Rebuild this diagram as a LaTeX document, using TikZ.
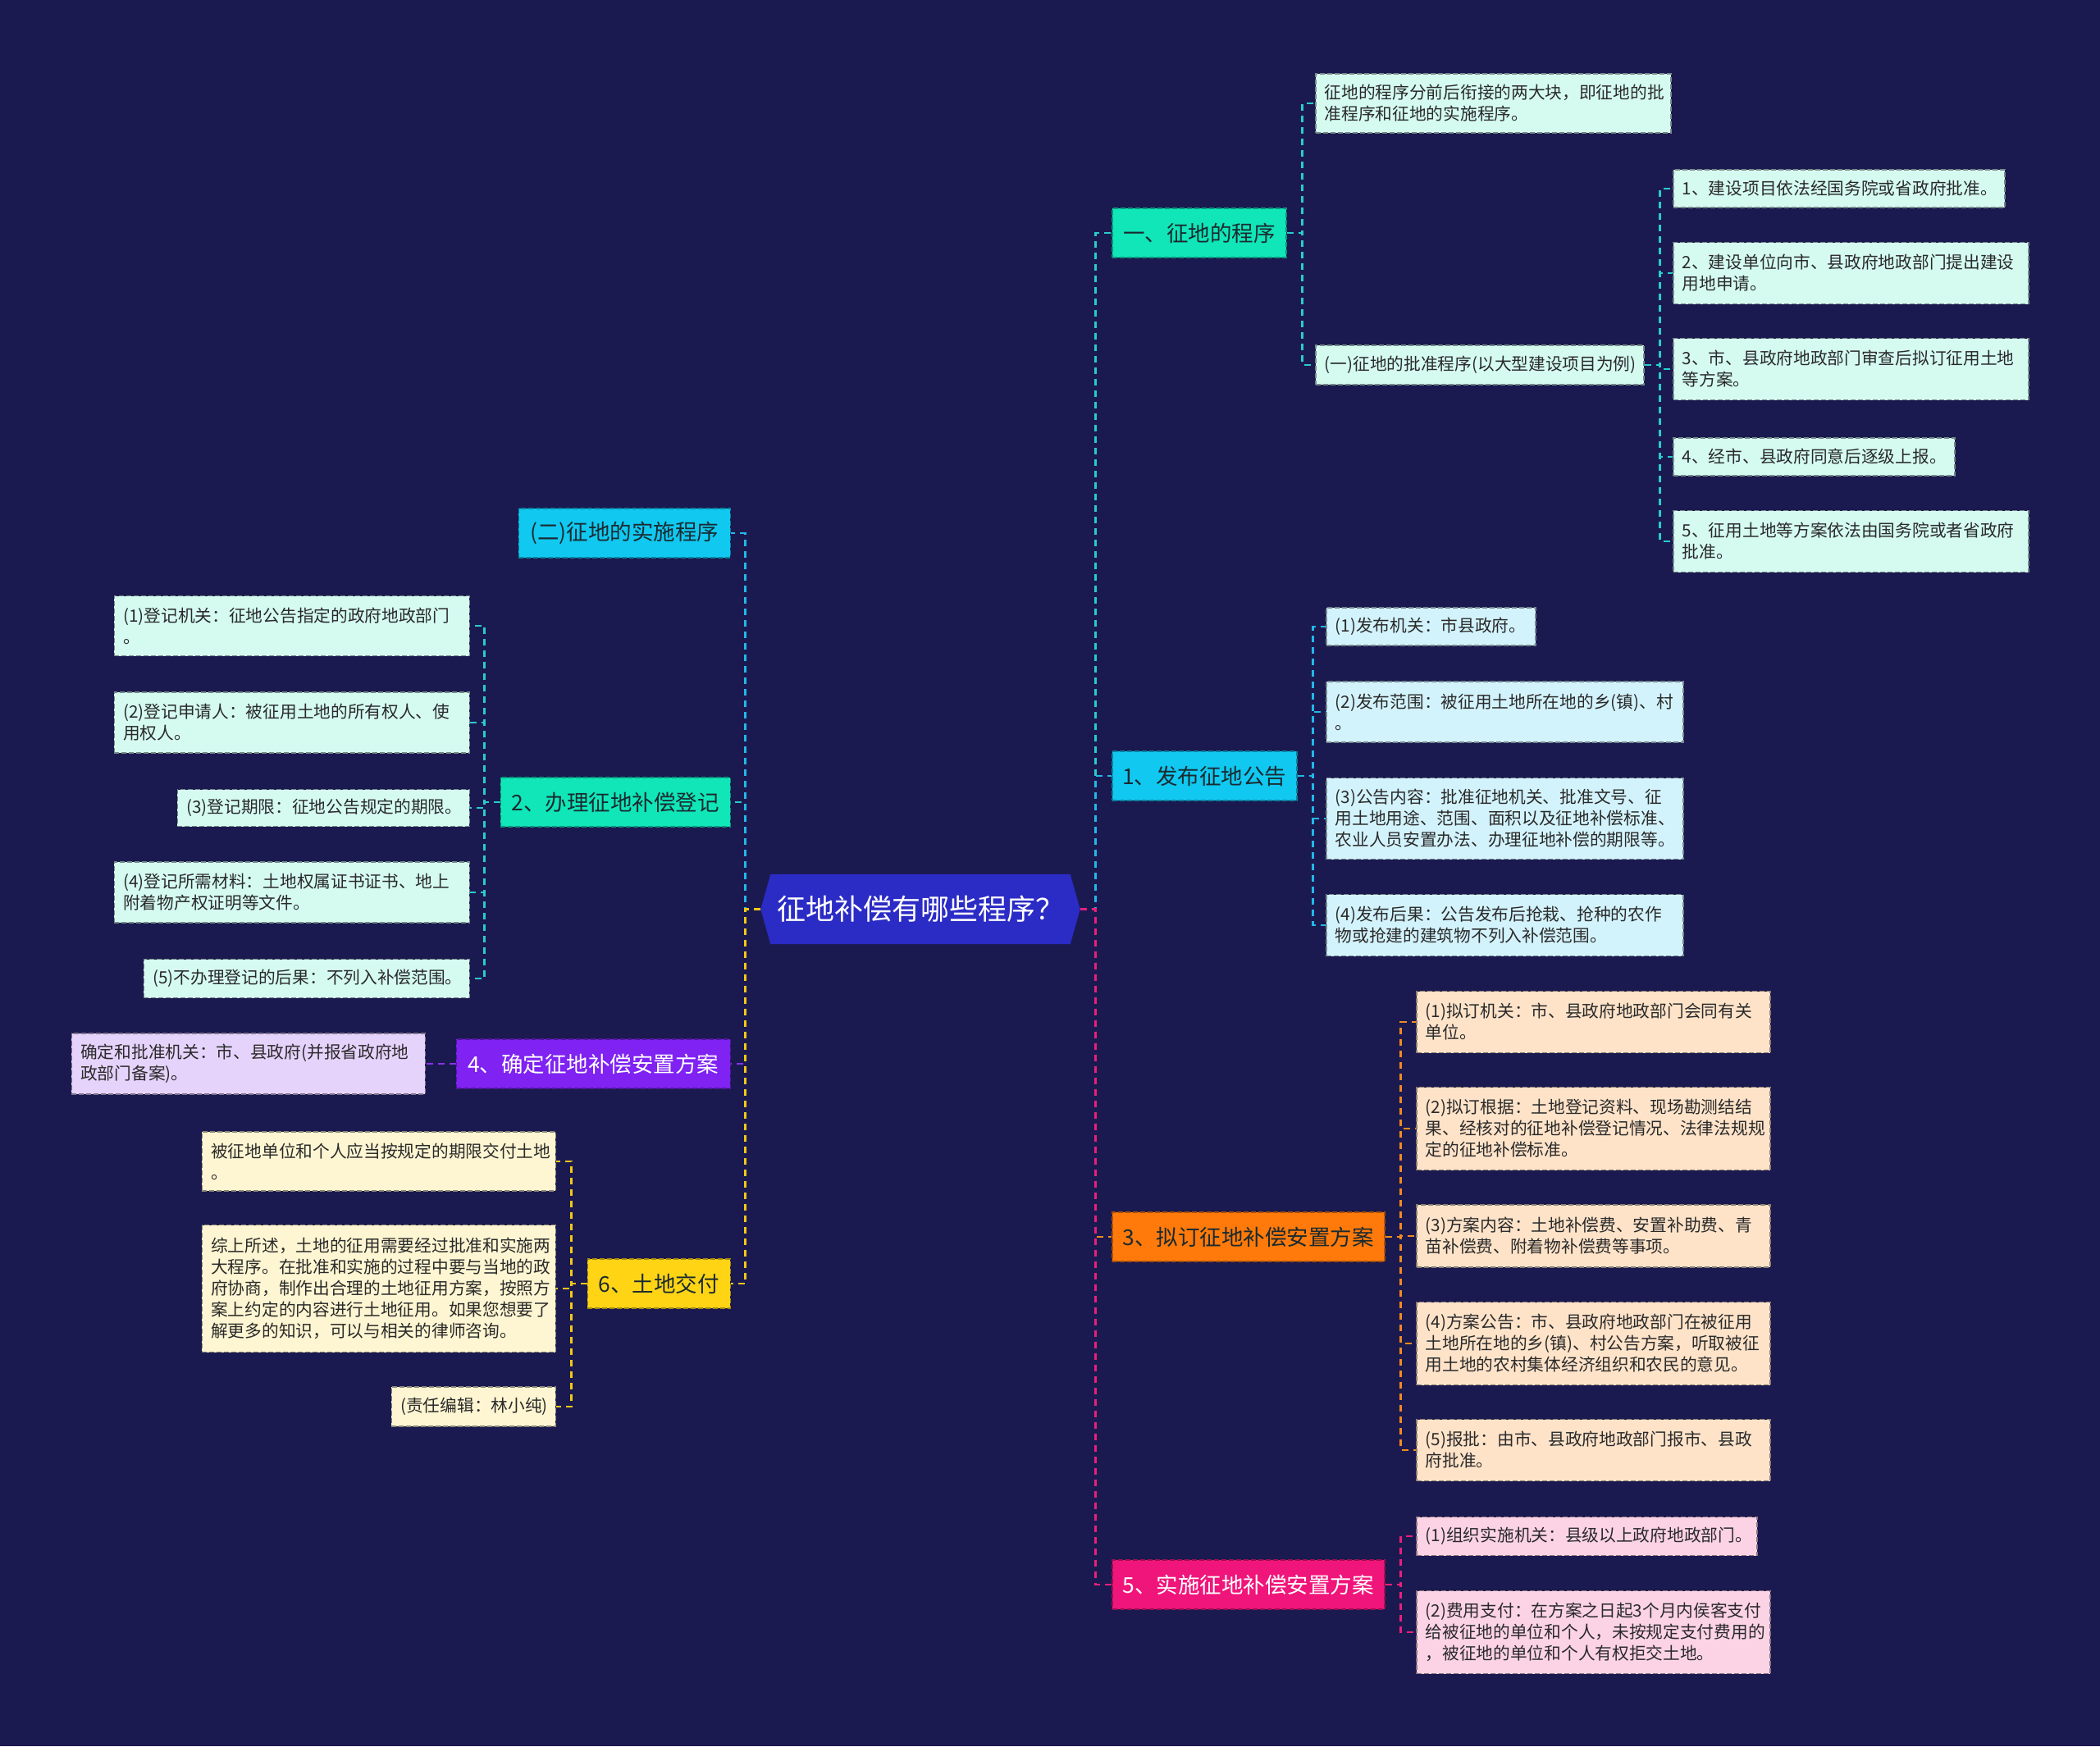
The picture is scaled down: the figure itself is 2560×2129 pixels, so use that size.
\documentclass[tikz,border=0pt]{standalone}
\usepackage{fontspec}
\setmainfont{Noto Sans CJK SC}
\definecolor{bgc}{HTML}{1B1A50}
\definecolor{rootc}{HTML}{2B2BC6}
\definecolor{aqua}{HTML}{10E6B8}
\definecolor{cyanc}{HTML}{10C8F0}
\definecolor{orangec}{HTML}{FF7A0A}
\definecolor{pinkc}{HTML}{F0157A}
\definecolor{purplec}{HTML}{7F22F2}
\definecolor{yellowc}{HTML}{FFD414}
\definecolor{mint}{HTML}{D5FBF1}
\definecolor{lcyan}{HTML}{D3F3FC}
\definecolor{peach}{HTML}{FEE3C9}
\definecolor{lpink}{HTML}{FCD3E5}
\definecolor{lav}{HTML}{E6D3FC}
\definecolor{cream}{HTML}{FEF6D2}
\definecolor{aqualine}{HTML}{28CCCC}
\definecolor{cyanline}{HTML}{22B8E8}
\definecolor{orangeline}{HTML}{F08A20}
\definecolor{pinkline}{HTML}{E8207A}
\definecolor{purpleline}{HTML}{8A30E8}
\definecolor{yellowline}{HTML}{F2C818}
\definecolor{dtext}{HTML}{1A2A30}
\definecolor{ltext}{HTML}{2A2A2A}
\pgfdeclarelayer{bgl}
\pgfdeclarelayer{lines}
\pgfsetlayers{bgl,lines,main}
\tikzset{
  conn/.style={draw=#1, line width=2.5pt, dash pattern=on 8pt off 6pt},
  rootnode/.style={inner sep=0pt, minimum width=389pt, minimum height=85pt, text=white, font=\fontsize{35}{41}\selectfont},
  lvone/.style={fill=#1, draw=#1!65!black, line width=1.5pt, dash pattern=on 6pt off 3pt, minimum height=60pt, inner sep=0pt, font=\fontsize{26.5}{32}\selectfont, text=dtext, align=center},
  leaf/.style={fill=#1, draw=#1!55!black, line width=1.5pt, dash pattern=on 6pt off 3pt, inner xsep=11pt, inner ysep=0pt, align=left, font=\fontsize{20.7}{26}\selectfont, text=ltext},
}
\begin{document}
\begin{tikzpicture}[x=1pt,y=-1pt]
\useasboundingbox (0,0) rectangle (2560,2129);
\begin{pgfonlayer}{bgl}
\fill[bgc] (0,0) rectangle (2560,2129);
\end{pgfonlayer}

% root
\node[rootnode] (root) at (1122,1108.5) {征地补偿有哪些程序？};
\begin{pgfonlayer}{lines}
\fill[rootc] (root.west) -- ([xshift=12pt]root.north west) -- ([xshift=-12pt]root.north east) -- (root.east) -- ([xshift=-12pt]root.south east) -- ([xshift=12pt]root.south west) -- cycle;
\end{pgfonlayer}

% level one, right
\node[lvone=aqua, minimum width=212pt, anchor=west] (n1) at (1355,284) {一、征地的程序};
\node[lvone=cyanc, minimum width=225pt, anchor=west] (n2) at (1355,946) {1、发布征地公告};
\node[lvone=orangec, minimum width=332pt, anchor=west] (n3) at (1355,1508) {3、拟订征地补偿安置方案};
\node[lvone=pinkc, text=white, minimum width=332pt, anchor=west] (n4) at (1355,1932) {5、实施征地补偿安置方案};

% level one, left
\node[lvone=cyanc, minimum width=258pt, anchor=east] (m1) at (891,650) {(二)征地的实施程序};
\node[lvone=aqua, minimum width=280pt, anchor=east] (m2) at (891,978) {2、办理征地补偿登记};
\node[lvone=purplec, text=white, minimum width=334pt, anchor=east] (m3) at (891,1297) {4、确定征地补偿安置方案};
\node[lvone=yellowc, minimum width=174pt, anchor=east] (m4) at (891,1565) {6、土地交付};

% leaves of n1
\node[leaf=mint, text width=411pt, minimum height=72pt, anchor=west] (a1) at (1603,126) {征地的程序分前后衔接的两大块，即征地的批\\准程序和征地的实施程序。};
\node[leaf=mint, text width=378pt, minimum height=48pt, anchor=west] (a2) at (1603,445) {(一)征地的批准程序(以大型建设项目为例)};
\node[leaf=mint, text width=382pt, minimum height=46pt, anchor=west] (b1) at (2039,230) {1、建设项目依法经国务院或省政府批准。};
\node[leaf=mint, text width=411pt, minimum height=75pt, anchor=west] (b2) at (2039,333) {2、建设单位向市、县政府地政部门提出建设\\用地申请。};
\node[leaf=mint, text width=411pt, minimum height=75pt, anchor=west] (b3) at (2039,450) {3、市、县政府地政部门审查后拟订征用土地\\等方案。};
\node[leaf=mint, text width=321pt, minimum height=46pt, anchor=west] (b4) at (2039,557) {4、经市、县政府同意后逐级上报。};
\node[leaf=mint, text width=411pt, minimum height=75pt, anchor=west] (b5) at (2039,660) {5、征用土地等方案依法由国务院或者省政府\\批准。};

% leaves of n2
\node[leaf=lcyan, text width=233pt, minimum height=46pt, anchor=west] (c1) at (1616,764) {(1)发布机关：市县政府。};
\node[leaf=lcyan, text width=413pt, minimum height=74pt, anchor=west] (c2) at (1616,868) {(2)发布范围：被征用土地所在地的乡(镇)、村\\。};
\node[leaf=lcyan, text width=413pt, minimum height=99pt, anchor=west] (c3) at (1616,998) {(3)公告内容：批准征地机关、批准文号、征\\用土地用途、范围、面积以及征地补偿标准、\\农业人员安置办法、办理征地补偿的期限等。};
\node[leaf=lcyan, text width=413pt, minimum height=75pt, anchor=west] (c4) at (1616,1128) {(4)发布后果：公告发布后抢栽、抢种的农作\\物或抢建的建筑物不列入补偿范围。};

% leaves of n3
\node[leaf=peach, text width=409pt, minimum height=75pt, anchor=west] (d1) at (1726,1246) {(1)拟订机关：市、县政府地政部门会同有关\\单位。};
\node[leaf=peach, text width=409pt, minimum height=101pt, anchor=west] (d2) at (1726,1376) {(2)拟订根据：土地登记资料、现场勘测结结\\果、经核对的征地补偿登记情况、法律法规规\\定的征地补偿标准。};
\node[leaf=peach, text width=409pt, minimum height=76pt, anchor=west] (d3) at (1726,1507) {(3)方案内容：土地补偿费、安置补助费、青\\苗补偿费、附着物补偿费等事项。};
\node[leaf=peach, text width=409pt, minimum height=101pt, anchor=west] (d4) at (1726,1638) {(4)方案公告：市、县政府地政部门在被征用\\土地所在地的乡(镇)、村公告方案，听取被征\\用土地的农村集体经济组织和农民的意见。};
\node[leaf=peach, text width=409pt, minimum height=75pt, anchor=west] (d5) at (1726,1768) {(5)报批：由市、县政府地政部门报市、县政\\府批准。};

% leaves of n4
\node[leaf=lpink, text width=393pt, minimum height=47pt, anchor=west] (e1) at (1726,1873) {(1)组织实施机关：县级以上政府地政部门。};
\node[leaf=lpink, text width=409pt, minimum height=101pt, anchor=west] (e2) at (1726,1990) {(2)费用支付：在方案之日起3个月内侯客支付\\给被征地的单位和个人，未按规定支付费用的\\，被征地的单位和个人有权拒交土地。};

% leaves of m2
\node[leaf=mint, text width=411pt, minimum height=73pt, anchor=east] (f1) at (573,763) {(1)登记机关：征地公告指定的政府地政部门\\。};
\node[leaf=mint, text width=411pt, minimum height=74pt, anchor=east] (f2) at (573,881) {(2)登记申请人：被征用土地的所有权人、使\\用权人。};
\node[leaf=mint, text width=334pt, minimum height=45pt, anchor=east] (f3) at (573,985) {(3)登记期限：征地公告规定的期限。};
\node[leaf=mint, text width=411pt, minimum height=74pt, anchor=east] (f4) at (573,1088) {(4)登记所需材料：土地权属证书证书、地上\\附着物产权证明等文件。};
\node[leaf=mint, text width=375pt, minimum height=47pt, anchor=east] (f5) at (573,1193) {(5)不办理登记的后果：不列入补偿范围。};

% leaf of m3
\node[leaf=lav, text width=409pt, minimum height=74pt, anchor=east] (g1) at (519,1297) {确定和批准机关：市、县政府(并报省政府地\\政部门备案)。};

% leaves of m4
\node[leaf=cream, text width=409pt, minimum height=72pt, anchor=east] (h1) at (678,1416) {被征地单位和个人应当按规定的期限交付土地\\。};
\node[leaf=cream, text width=409pt, minimum height=155pt, anchor=east] (h2) at (678,1571) {综上所述，土地的征用需要经过批准和实施两\\大程序。在批准和实施的过程中要与当地的政\\府协商，制作出合理的土地征用方案，按照方\\案上约定的内容进行土地征用。如果您想要了\\解更多的知识，可以与相关的律师咨询。};
\node[leaf=cream, text width=178pt, minimum height=48pt, anchor=east] (h3) at (678,1715) {(责任编辑：林小纯)};

% connectors
\begin{pgfonlayer}{lines}
\draw[conn=aqualine] (root.east) -- ++(19,0) |- (n1.west);
\draw[conn=cyanline] (root.east) -- ++(19,0) |- (n2.west);
\draw[conn=orangeline] (root.east) -- ++(19,0) |- (n3.west);
\draw[conn=pinkline] (root.east) -- ++(19,0) |- (n4.west);
\draw[conn=aqualine] (root.west) -- ++(-19,0) |- (m2.east);
\draw[conn=cyanline] (root.west) -- ++(-19,0) |- (m1.east);
\draw[conn=purpleline] (root.west) -- ++(-19,0) |- (m3.east);
\draw[conn=yellowline] (root.west) -- ++(-19,0) |- (m4.east);
\foreach \c in {a1,a2} \draw[conn=aqualine] (n1.east) -- ++(19,0) |- (\c.west);
\foreach \c in {b1,b2,b3,b4,b5} \draw[conn=aqualine] (a2.east) -- ++(19,0) |- (\c.west);
\foreach \c in {c1,c2,c3,c4} \draw[conn=cyanline] (n2.east) -- ++(19,0) |- (\c.west);
\foreach \c in {d1,d2,d3,d4,d5} \draw[conn=orangeline] (n3.east) -- ++(19,0) |- (\c.west);
\foreach \c in {e1,e2} \draw[conn=pinkline] (n4.east) -- ++(19,0) |- (\c.west);
\foreach \c in {f1,f2,f3,f4,f5} \draw[conn=aqualine] (m2.west) -- ++(-19,0) |- (\c.east);
\draw[conn=purpleline] (m3.west) -- (g1.east);
\foreach \c in {h1,h2,h3} \draw[conn=yellowline] (m4.west) -- ++(-19,0) |- (\c.east);
\end{pgfonlayer}
\end{tikzpicture}
\end{document}
